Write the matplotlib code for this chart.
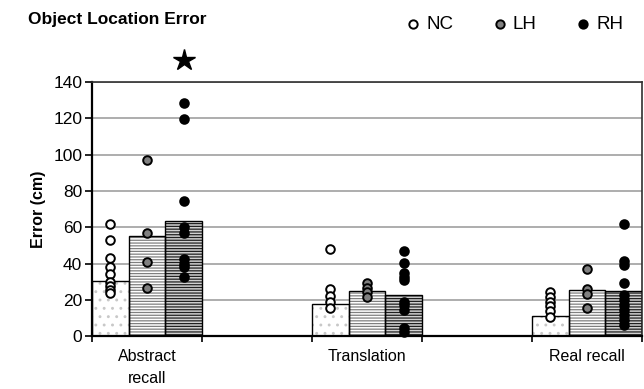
import numpy as np
import matplotlib
matplotlib.use("Agg")
import matplotlib.pyplot as plt
from matplotlib.lines import Line2D

plt.rcParams["font.family"] = ["Liberation Sans", "DejaVu Sans"]
plt.rcParams["hatch.linewidth"] = 0.9

# kategoriler (aralarda bos kategori var, Excel tarzi)
categories = ["Abstract\nrecall", "Translation", "Real recall"]
groups = ["NC", "LH", "RH"]

# ortalama cubuk degerleri (cm)
nc_means = [30.5, 17.6, 11.0]
lh_means = [55.0, 24.8, 25.4]
rh_means = [63.4, 22.6, 24.8]

# bireysel noktalar
nc_points = [
    [62, 53, 43, 38, 34, 30, 27.5, 25.5, 24],
    [48, 26, 22, 19, 15.5],
    [24.5, 21.7, 19, 16.5, 13.8, 10.8],
]
lh_points = [
    [97, 57, 41, 26.5],
    [29, 26.3, 24.5, 21.7],
    [36.8, 25.9, 23.2, 15.3],
]
rh_points = [
    [128.5, 119.5, 74.6, 60, 57, 42.4, 40, 38, 32.3],
    [47, 40.4, 34.5, 32.7, 30.9, 18.9, 17, 14.3, 4.2, 2.4],
    [62, 41.5, 39, 29, 22.6, 19.8, 17, 14.3, 11.6, 8.8, 6],
]
star_value = 152

fig = plt.figure(figsize=(6.44, 3.89), dpi=100)
ax = fig.add_axes([0.143, 0.136, 0.854, 0.653])

cat_pos = [0.5, 2.5, 4.5]
w = 1 / 3
means = [nc_means, lh_means, rh_means]
points = [nc_points, lh_points, rh_points]
offsets = [-w, 0, w]
bar_face = ["white", "white", "#d0d0d0"]
bar_hatch = ["..", "------", "------"]
bar_hcol = ["#c8c8c8", "#808080", "#202020"]
pt_face = ["white", "#808080", "black"]

for g in range(3):
    xs = [c + offsets[g] for c in cat_pos]
    ax.bar(xs, means[g], width=w, color=bar_face[g], hatch=bar_hatch[g],
           edgecolor=bar_hcol[g], linewidth=0, zorder=2)
    ax.bar(xs, means[g], width=w, color="none", edgecolor="black",
           linewidth=1.0, zorder=3)
    for i, x in enumerate(xs):
        ys = points[g][i]
        ax.plot([x] * len(ys), ys, "o", ms=6.2, mfc=pt_face[g], mec="black",
                mew=1.4, zorder=4, clip_on=False)

ax.plot(cat_pos[0] + w, star_value, marker="*", ms=16, color="black",
        clip_on=False, zorder=5)

ax.set_xlim(0, 5)
ax.set_ylim(0, 140)
ax.set_yticks(range(0, 141, 20))
ax.yaxis.grid(True, color="#a0a0a0", linewidth=1.2, zorder=0)
ax.set_axisbelow(True)
ax.tick_params(axis="y", labelsize=12.5, length=5, width=1.2, direction="out",
               pad=2)

ax.set_xticks(cat_pos)
ax.set_xticklabels(categories, fontsize=11.5, linespacing=1.6)
ax.set_xticks(range(6), minor=True)
ax.tick_params(axis="x", which="major", length=0, pad=9)
ax.tick_params(axis="x", which="minor", length=4, width=1.2, direction="out")

for s in ["left", "bottom"]:
    ax.spines[s].set_linewidth(1.6)
for s in ["top", "right"]:
    ax.spines[s].set_linewidth(1.2)
    ax.spines[s].set_color("#303030")

ax.set_ylabel("Error (cm)", fontsize=11.5, fontweight="bold", labelpad=5)

fig.text(28 / 644, 0.949, "Object Location Error", fontsize=12.5,
         fontweight="bold", va="center")

# legend elle yerlestirildi
leg_x = [413, 500, 583]
for xm, c, lab in zip(leg_x, pt_face, groups):
    fig.add_artist(Line2D([xm / 644], [0.938], transform=fig.transFigure,
                          ls="none", marker="o", ms=6, mfc=c, mec="black",
                          mew=1.4))
    fig.text((xm + 13) / 644, 0.938, lab, fontsize=13.5, va="center")

fig.savefig("out.png", dpi=100)
